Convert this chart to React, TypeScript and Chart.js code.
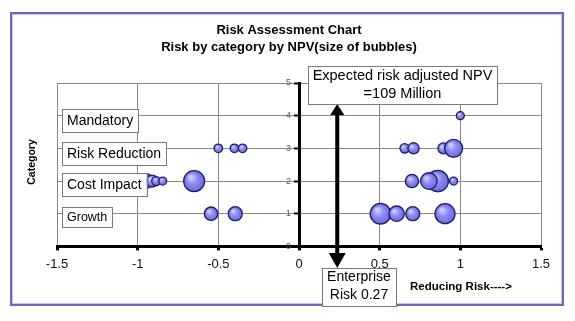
import React, { useEffect, useRef } from "react";
import { Chart, registerables } from "chart.js";

Chart.register(...registerables);

const FONT = "'Liberation Sans', Arial, sans-serif";

const TITLE_LINES = ["Risk Assessment Chart", "Risk by category by NPV(size of bubbles)"];
const X_TITLE = "Reducing Risk---->";
const Y_TITLE = "Category";

const CATEGORY_LABELS = ["Growth", "Cost Impact", "Risk Reduction", "Mandatory"];
const CATEGORY_VALUES = [1, 2, 3, 4];

// x = risk score, r = bubble radius (NPV size)
const GROWTH_X = [-0.545, -0.395, 0.505, 0.605, 0.705, 0.905];
const GROWTH_R = [6.7, 7, 10.3, 7.7, 7, 10];
const COST_IMPACT_X = [-0.95, -0.91, -0.885, -0.845, -0.65, 0.7, 0.86, 0.805, 0.958];
const COST_IMPACT_R = [7.5, 6, 4.5, 4, 10.5, 6.6, 10.7, 8.3, 4];
const RISK_REDUCTION_X = [-0.5, -0.4, -0.35, 0.655, 0.71, 0.895, 0.958];
const RISK_REDUCTION_R = [4.3, 4.3, 4.3, 4.7, 5.6, 5.5, 9];
const MANDATORY_X = [1.0];
const MANDATORY_R = [4];

const X_MIN = -1.5;
const X_MAX = 1.5;
const X_STEP = 0.5;
const Y_MIN = 0;
const Y_MAX = 5;
const Y_STEP = 1;
const Y_LABEL_OFFSET_X = -0.05;

const NPV_TEXT = ["Expected risk adjusted NPV", "=109 Million"];
const ENTERPRISE_TEXT = ["Enterprise", "Risk 0.27"];
const ENTERPRISE_RISK_X = 0.237;

const bubbleFill = (c: any) => {
  const raw = c.raw;
  const fallback = "#8282f0";
  if (!raw || c.type !== "data") return fallback;
  const ch = c.chart;
  const xs = ch.scales && ch.scales.x;
  const ys = ch.scales && ch.scales.y;
  if (!xs || !ys) return fallback;
  const px = xs.getPixelForValue(raw.x);
  const py = ys.getPixelForValue(raw.y);
  const r = raw.r;
  if (!isFinite(px) || !isFinite(py) || !isFinite(r) || r <= 0) return fallback;
  const g = ch.ctx.createRadialGradient(px - r * 0.35, py - r * 0.4, r * 0.1, px, py, r);
  g.addColorStop(0, "#cfcfff");
  g.addColorStop(0.45, "#8e8ef6");
  g.addColorStop(1, "#6a6adc");
  return g;
};

const drawBox = (ctx: CanvasRenderingContext2D, x: number, y: number, w: number, h: number) => {
  ctx.fillStyle = "#ffffff";
  ctx.fillRect(x, y, w, h);
  ctx.strokeStyle = "#7a7a7a";
  ctx.lineWidth = 1;
  ctx.strokeRect(Math.round(x) + 0.5, Math.round(y) + 0.5, Math.round(w), Math.round(h));
};

const decorPlugin = {
  id: "decor",
  beforeDraw(chart: any) {
    const ctx: CanvasRenderingContext2D = chart.ctx;
    ctx.save();
    ctx.fillStyle = "#ffffff";
    ctx.fillRect(0, 0, chart.width, chart.height);
    // outer frame
    ctx.strokeStyle = "#6a6abd";
    ctx.lineWidth = 2;
    ctx.strokeRect(11, 13, 552, 292);
    ctx.strokeStyle = "#c4c4ec";
    ctx.lineWidth = 1;
    ctx.strokeRect(12.5, 14.5, 549, 289);
    // titles
    ctx.fillStyle = "#000";
    ctx.font = `bold 13px ${FONT}`;
    ctx.textAlign = "center";
    ctx.textBaseline = "middle";
    ctx.fillText(TITLE_LINES[0], 289, 30);
    ctx.fillText(TITLE_LINES[1], 289, 47);
    // axis titles
    ctx.font = `bold 11.5px ${FONT}`;
    ctx.textAlign = "left";
    ctx.fillText(X_TITLE, 410, 287);
    ctx.save();
    ctx.translate(32, 162);
    ctx.rotate(-Math.PI / 2);
    ctx.textAlign = "center";
    ctx.font = `bold 10.5px ${FONT}`;
    ctx.fillText(Y_TITLE, 0, 0);
    ctx.restore();
    ctx.restore();
  },
  afterDatasetsDraw(chart: any) {
    const ctx: CanvasRenderingContext2D = chart.ctx;
    const xs = chart.scales.x;
    const ys = chart.scales.y;
    ctx.save();
    ctx.textBaseline = "middle";
    ctx.textAlign = "left";
    // category label boxes
    CATEGORY_LABELS.forEach((label, i) => {
      const small = label === "Growth";
      const fs = small ? 12.5 : 14;
      ctx.font = `${fs}px ${FONT}`;
      const tw = ctx.measureText(label).width;
      const cy = ys.getPixelForValue(CATEGORY_VALUES[i]) + (i < 2 ? 3.5 : 5);
      const h = small ? 20 : 23;
      const bx = xs.getPixelForValue(X_MIN) + 5;
      drawBox(ctx, bx, cy - h / 2, tw + 10, h);
      ctx.fillStyle = "#000";
      ctx.fillText(label, bx + 5, cy + 0.5);
    });

    // arrow
    const ax = xs.getPixelForValue(ENTERPRISE_RISK_X);
    ctx.fillStyle = "#000";
    ctx.fillRect(ax - 2, 110, 4, 145);
    ctx.beginPath();
    ctx.moveTo(ax, 104);
    ctx.lineTo(ax - 7, 115);
    ctx.lineTo(ax + 7, 115);
    ctx.closePath();
    ctx.fill();
    ctx.beginPath();
    ctx.moveTo(ax - 8.5, 253);
    ctx.lineTo(ax + 8.5, 253);
    ctx.lineTo(ax, 268);
    ctx.closePath();
    ctx.fill();

    // NPV box
    ctx.font = `14.5px ${FONT}`;
    ctx.textAlign = "center";
    drawBox(ctx, 308, 66, 189, 38);
    ctx.fillStyle = "#000";
    ctx.fillText(NPV_TEXT[0], 402.5, 76);
    ctx.fillText(NPV_TEXT[1], 402.5, 94);

    // Enterprise box
    ctx.font = `14px ${FONT}`;
    drawBox(ctx, 322, 268, 74, 38);
    ctx.fillStyle = "#000";
    ctx.fillText(ENTERPRISE_TEXT[0], 359, 277);
    ctx.fillText(ENTERPRISE_TEXT[1], 359, 295);
    ctx.restore();
  },
};

const makePoints = (xsArr: number[], rsArr: number[], yVal: number) =>
  xsArr.map((x, i) => ({ x, y: yVal, r: rsArr[i] }));

const hideZero = (c: any) => (c.tick && c.tick.value === 0 ? "rgba(0,0,0,0)" : "#8a8a8a");

export default function App() {
  const ref = useRef<HTMLCanvasElement>(null);
  useEffect(() => {
    document.body.style.margin = "0";
    const canvas = ref.current!;
    const style = {
      backgroundColor: bubbleFill,
      borderColor: "#1e1e6a",
      borderWidth: 1.3,
    };
    const datasets = [
      { label: CATEGORY_LABELS[0], data: makePoints(GROWTH_X, GROWTH_R, CATEGORY_VALUES[0]), ...style },
      { label: CATEGORY_LABELS[1], data: makePoints(COST_IMPACT_X, COST_IMPACT_R, CATEGORY_VALUES[1]), ...style },
      { label: CATEGORY_LABELS[2], data: makePoints(RISK_REDUCTION_X, RISK_REDUCTION_R, CATEGORY_VALUES[2]), ...style },
      { label: CATEGORY_LABELS[3], data: makePoints(MANDATORY_X, MANDATORY_R, CATEGORY_VALUES[3]), ...style },
    ];
    const chart = new Chart(canvas, {
      type: "bubble",
      data: { datasets } as any,
      options: {
        animation: false,
        responsive: false,
        devicePixelRatio: 1,
        layout: { padding: { left: 57, right: 34, top: 83, bottom: 43 } },
        plugins: {
          legend: { display: false },
          tooltip: { enabled: false },
          title: { display: false },
        },
        scales: {
          x: {
            type: "linear",
            position: "bottom",
            min: X_MIN,
            max: X_MAX,
            ticks: {
              stepSize: X_STEP,
              padding: 6,
              color: "#111",
              font: { family: FONT, size: 13 },
              callback: (v: any) => String(v),
            },
            grid: {
              color: hideZero,
              lineWidth: 1,
              tickLength: 4,
              tickColor: "#000",
              tickWidth: 3,
            },
            border: { color: "#000", width: 3 },
          },
          y: {
            type: "linear",
            position: { x: 0 } as any,
            min: Y_MIN,
            max: Y_MAX,
            ticks: { stepSize: Y_STEP, display: false },
            grid: {
              color: hideZero,
              lineWidth: 1,
              tickLength: 4,
              tickColor: "#000",
              tickWidth: 2,
            },
            border: { color: "#000", width: 3 },
          },
          yLabels: {
            type: "linear",
            axis: "y",
            position: { x: Y_LABEL_OFFSET_X } as any,
            min: Y_MIN,
            max: Y_MAX,
            ticks: {
              stepSize: Y_STEP,
              color: "#555",
              font: { family: FONT, size: 9 },
            },
            grid: { display: false },
            border: { display: false },
          },
        },
      } as any,
      plugins: [decorPlugin],
    });
    return () => chart.destroy();
  }, []);
  return (
    <div style={{ width: 575, height: 321 }}>
      <canvas ref={ref} width={575} height={321} style={{ display: "block" }} />
    </div>
  );
}
